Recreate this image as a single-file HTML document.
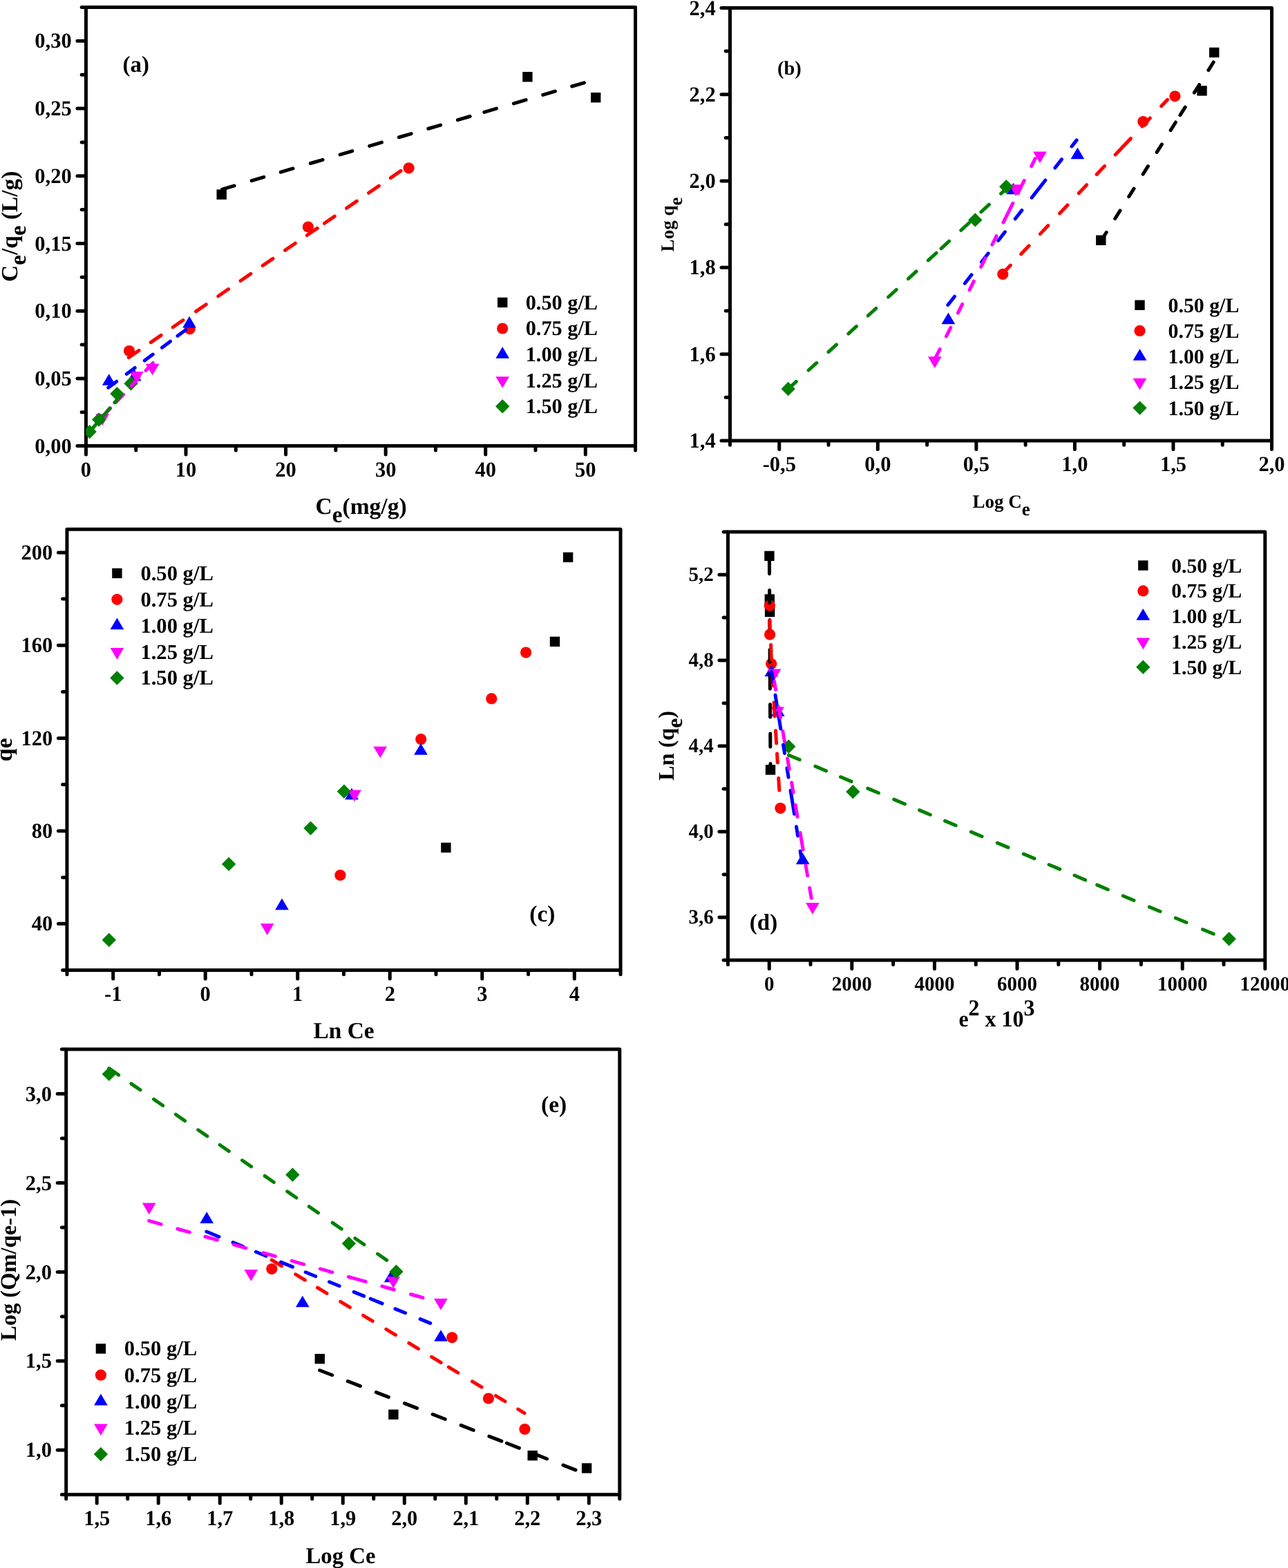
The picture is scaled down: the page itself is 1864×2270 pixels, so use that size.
<!DOCTYPE html>
<html lang="en"><head><meta charset="utf-8"><title>Isotherm plots</title>
<style>html,body{margin:0;padding:0;background:#fff}body{width:1864px;height:2270px;overflow:hidden}svg{display:block}text{font-family:"Liberation Serif","Times New Roman",serif;font-weight:bold;fill:#000;text-rendering:geometricPrecision}</style>
</head><body>
<svg xmlns="http://www.w3.org/2000/svg" width="1864" height="2270" viewBox="0 0 1864 2270">
<rect width="1864" height="2270" fill="#fff"/>
<g>
<clipPath id="clipa"><rect x="124.45" y="10.5" width="795.1" height="635.1"/></clipPath>
<path d="M123.45 645.6H111.95M123.45 547.89H111.95M123.45 450.18H111.95M123.45 352.48H111.95M123.45 254.77H111.95M123.45 157.06H111.95M123.45 59.35H111.95M123.45 596.75H118.15M123.45 499.04H118.15M123.45 401.33H118.15M123.45 303.62H118.15M123.45 205.92H118.15M123.45 108.21H118.15M123.45 10.5H118.15M124.45 646.6V658.1M269.01 646.6V658.1M413.58 646.6V658.1M558.14 646.6V658.1M702.7 646.6V658.1M847.27 646.6V658.1M196.73 646.6V651.9M341.3 646.6V651.9M485.86 646.6V651.9M630.42 646.6V651.9M774.99 646.6V651.9M919.55 646.6V651.9" stroke="#000" stroke-width="5" stroke-linecap="round" fill="none"/>
<text transform="translate(103.65 655.7) scale(0.983 1)" font-size="31" text-anchor="end">0,00</text>
<text transform="translate(103.65 557.99) scale(0.983 1)" font-size="31" text-anchor="end">0,05</text>
<text transform="translate(103.65 460.28) scale(0.983 1)" font-size="31" text-anchor="end">0,10</text>
<text transform="translate(103.65 362.58) scale(0.983 1)" font-size="31" text-anchor="end">0,15</text>
<text transform="translate(103.65 264.87) scale(0.983 1)" font-size="31" text-anchor="end">0,20</text>
<text transform="translate(103.65 167.16) scale(0.983 1)" font-size="31" text-anchor="end">0,25</text>
<text transform="translate(103.65 69.45) scale(0.983 1)" font-size="31" text-anchor="end">0,30</text>
<text transform="translate(124.45 689.7) scale(0.983 1)" font-size="31" text-anchor="middle">0</text>
<text transform="translate(269.01 689.7) scale(0.983 1)" font-size="31" text-anchor="middle">10</text>
<text transform="translate(413.58 689.7) scale(0.983 1)" font-size="31" text-anchor="middle">20</text>
<text transform="translate(558.14 689.7) scale(0.983 1)" font-size="31" text-anchor="middle">30</text>
<text transform="translate(702.7 689.7) scale(0.983 1)" font-size="31" text-anchor="middle">40</text>
<text transform="translate(847.27 689.7) scale(0.983 1)" font-size="31" text-anchor="middle">50</text>
<rect x="124.45" y="10.5" width="795.1" height="635.1" fill="none" stroke="#000" stroke-width="5" stroke-linejoin="round"/>
<g clip-path="url(#clipa)">
<rect x="313.5" y="274.4" width="14.4" height="14.4" fill="#000"/>
<rect x="756.2" y="104.1" width="14.4" height="14.4" fill="#000"/>
<rect x="855" y="134" width="14.4" height="14.4" fill="#000"/>
<circle cx="187" cy="508" r="8.1" fill="#ff0000"/>
<circle cx="274.6" cy="476.3" r="8.1" fill="#ff0000"/>
<circle cx="445.9" cy="328.5" r="8.1" fill="#ff0000"/>
<circle cx="591.6" cy="243.3" r="8.1" fill="#ff0000"/>
<polygon points="157.7,541.17 167.55,557.87 147.85,557.87" fill="#0000ff"/>
<polygon points="194.7,534.77 204.55,551.47 184.85,551.47" fill="#0000ff"/>
<polygon points="274,457.87 283.85,474.57 264.15,474.57" fill="#0000ff"/>
<polygon points="148.3,615.93 158.15,599.23 138.45,599.23" fill="#ff00ff"/>
<polygon points="197.8,554.73 207.65,538.03 187.95,538.03" fill="#ff00ff"/>
<polygon points="220.6,543.33 230.45,526.63 210.75,526.63" fill="#ff00ff"/>
<polygon points="129.7,614.9 139.9,625.1 129.7,635.3 119.5,625.1" fill="#008000"/>
<polygon points="143.2,597.3 153.4,607.5 143.2,617.7 133,607.5" fill="#008000"/>
<polygon points="169.4,559.9 179.6,570.1 169.4,580.3 159.2,570.1" fill="#008000"/>
<polygon points="189.5,545.1 199.7,555.3 189.5,565.5 179.3,555.3" fill="#008000"/>
<path d="M321.4 274.2L339.15 268.97 M364.1 261.62L381.85 256.39 M406.3 249.18L424.05 243.95 M449.3 236.51L467.05 231.28 M492.1 223.9L509.85 218.67 M534.7 211.35L552.45 206.12 M577.4 198.77L595.15 193.54 M619.8 186.27L637.55 181.05 M662.4 173.72L680.15 168.49 M700.8 162.41L718.55 157.18 M743.4 149.85L761.15 144.63 M785.7 137.39L803.45 132.16 M827.7 125.02L845.45 119.79" stroke="#000" stroke-width="5" stroke-linecap="round" fill="none"/>
<path d="M186.17 517.62L201.01 507.44 M218.27 495.6L233.11 485.42 M250.17 473.72L265.01 463.54 M283.47 450.88L298.31 440.69 M315.77 428.72L330.61 418.54 M348.07 406.56L362.91 396.38 M380.17 384.54L395.01 374.36 M412.47 362.38L427.31 352.2 M444.37 340.5L459.21 330.32 M469.47 323.28L484.31 313.1 M501.57 301.26L516.41 291.08 M533.57 279.31L548.41 269.13 M565.27 257.57L580.11 247.39" stroke="#ff0000" stroke-width="5" stroke-linecap="round" fill="none"/>
<path d="M156.7 561.21L168.72 552.24 M183.2 541.44L195.22 532.47 M209.2 522.04L221.22 513.07 M234.5 503.16L246.52 494.19 M257 486.37L269.02 477.4" stroke="#0000ff" stroke-width="5" stroke-linecap="round" fill="none"/>
<path d="M149.3 602.19L159.77 591.03 M168 582.25L178.47 571.09 M190.1 558.69L200.57 547.53 M210.9 536.51L221.37 525.36" stroke="#ff00ff" stroke-width="5" stroke-linecap="round" fill="none"/>
<path d="M131 623.58L140.76 612.19 M149.2 602.34L158.96 590.95 M165.8 582.96L175.56 571.57" stroke="#008000" stroke-width="5" stroke-linecap="round" fill="none"/>
</g>
<rect x="720" y="430.7" width="14.4" height="14.4" fill="#000"/>
<text transform="translate(760.7 447.8)" font-size="30.3" text-anchor="start">0.50 g/L</text>
<circle cx="727.2" cy="475.5" r="8.1" fill="#ff0000"/>
<text transform="translate(760.7 485.4)" font-size="30.3" text-anchor="start">0.75 g/L</text>
<polygon points="727.2,501.97 737.05,518.67 717.35,518.67" fill="#0000ff"/>
<text transform="translate(760.7 523)" font-size="30.3" text-anchor="start">1.00 g/L</text>
<polygon points="727.2,561.83 737.05,545.13 717.35,545.13" fill="#ff00ff"/>
<text transform="translate(760.7 560.6)" font-size="30.3" text-anchor="start">1.25 g/L</text>
<polygon points="727.2,578.1 737.4,588.3 727.2,598.5 717,588.3" fill="#008000"/>
<text transform="translate(760.7 598.2)" font-size="30.3" text-anchor="start">1.50 g/L</text>
<text transform="translate(177.4 103.5)" font-size="33" text-anchor="start">(a)</text>
<text transform="translate(522.5 744)" font-size="33.5" text-anchor="middle">C<tspan font-size="33.5" dy="11.5">e</tspan><tspan dy="-11.5">(mg/g)</tspan></text>
<text transform="translate(24.8 327.8) rotate(-90)" font-size="33.4" text-anchor="middle">C<tspan font-size="33.4" dy="12">e</tspan><tspan dy="-12">/q</tspan><tspan font-size="33.4" dy="12">e</tspan><tspan dy="-12"> (L/g)</tspan></text>
</g>
<g>
<clipPath id="clipb"><rect x="1056.5" y="11.4" width="784" height="626.6"/></clipPath>
<path d="M1055.5 638H1044M1055.5 512.68H1044M1055.5 387.36H1044M1055.5 262.04H1044M1055.5 136.72H1044M1055.5 11.4H1044M1055.5 575.34H1050.2M1055.5 450.02H1050.2M1055.5 324.7H1050.2M1055.5 199.38H1050.2M1055.5 74.06H1050.2M1127.77 639V650.5M1270.32 639V650.5M1412.86 639V650.5M1555.41 639V650.5M1697.95 639V650.5M1840.5 639V650.5M1056.5 639V644.3M1199.05 639V644.3M1341.59 639V644.3M1484.14 639V644.3M1626.68 639V644.3M1769.23 639V644.3" stroke="#000" stroke-width="5" stroke-linecap="round" fill="none"/>
<text transform="translate(1035.7 648.1) scale(0.983 1)" font-size="31" text-anchor="end">1,4</text>
<text transform="translate(1035.7 522.78) scale(0.983 1)" font-size="31" text-anchor="end">1,6</text>
<text transform="translate(1035.7 397.46) scale(0.983 1)" font-size="31" text-anchor="end">1,8</text>
<text transform="translate(1035.7 272.14) scale(0.983 1)" font-size="31" text-anchor="end">2,0</text>
<text transform="translate(1035.7 146.82) scale(0.983 1)" font-size="31" text-anchor="end">2,2</text>
<text transform="translate(1035.7 21.5) scale(0.983 1)" font-size="31" text-anchor="end">2,4</text>
<text transform="translate(1127.77 682.1) scale(0.983 1)" font-size="31" text-anchor="middle">-0,5</text>
<text transform="translate(1270.32 682.1) scale(0.983 1)" font-size="31" text-anchor="middle">0,0</text>
<text transform="translate(1412.86 682.1) scale(0.983 1)" font-size="31" text-anchor="middle">0,5</text>
<text transform="translate(1555.41 682.1) scale(0.983 1)" font-size="31" text-anchor="middle">1,0</text>
<text transform="translate(1697.95 682.1) scale(0.983 1)" font-size="31" text-anchor="middle">1,5</text>
<text transform="translate(1840.5 682.1) scale(0.983 1)" font-size="31" text-anchor="middle">2,0</text>
<rect x="1056.5" y="11.4" width="784" height="626.6" fill="none" stroke="#000" stroke-width="5" stroke-linejoin="round"/>
<g clip-path="url(#clipb)">
<rect x="1750" y="68.8" width="14.4" height="14.4" fill="#000"/>
<rect x="1732.3" y="124.2" width="14.4" height="14.4" fill="#000"/>
<rect x="1586.1" y="340.6" width="14.4" height="14.4" fill="#000"/>
<circle cx="1700.4" cy="139.3" r="8.1" fill="#ff0000"/>
<circle cx="1654.3" cy="176.1" r="8.1" fill="#ff0000"/>
<circle cx="1451.3" cy="396.9" r="8.1" fill="#ff0000"/>
<polygon points="1559.4,213.47 1569.25,230.17 1549.55,230.17" fill="#0000ff"/>
<polygon points="1466.5,264.67 1476.35,281.37 1456.65,281.37" fill="#0000ff"/>
<polygon points="1372.4,452.57 1382.25,469.27 1362.55,469.27" fill="#0000ff"/>
<polygon points="1505,236.13 1514.85,219.43 1495.15,219.43" fill="#ff00ff"/>
<polygon points="1470,283.93 1479.85,267.23 1460.15,267.23" fill="#ff00ff"/>
<polygon points="1352.8,533.03 1362.65,516.33 1342.95,516.33" fill="#ff00ff"/>
<polygon points="1456.2,260 1466.4,270.2 1456.2,280.4 1446,270.2" fill="#008000"/>
<polygon points="1411.3,308.2 1421.5,318.4 1411.3,328.6 1401.1,318.4" fill="#008000"/>
<polygon points="1140.7,552.8 1150.9,563 1140.7,573.2 1130.5,563" fill="#008000"/>
<path d="M1594.07 347.7L1601.26 336.27 M1613.7 316.5L1620.99 304.9 M1633.71 284.7L1641 273.1 M1654.15 252.2L1661.45 240.6 M1674.16 220.4L1681.45 208.8 M1694.17 188.6L1701.46 177 M1707.94 166.7L1715.24 155.1 M1728.39 134.2L1735.69 122.6 M1748.9 101.6L1756.19 90" stroke="#000" stroke-width="5" stroke-linecap="round" fill="none"/>
<path d="M1451.3 395.71L1462.38 384.03 M1477.72 367.84L1489.14 355.79 M1505.42 338.61L1516.84 326.56 M1533.52 308.96L1544.94 296.91 M1561.22 279.74L1572.64 267.69 M1587.12 252.41L1598.54 240.36 M1614.12 223.92L1636.34 200.48 M1652.92 182.98L1664.34 170.94 M1680.62 153.76L1689.56 144.32" stroke="#ff0000" stroke-width="5" stroke-linecap="round" fill="none"/>
<path d="M1371.84 441.58L1381.5 429.2 M1396.34 410.19L1406 397.81 M1420.54 379.18L1430.2 366.8 M1444.74 348.17L1454.4 335.8 M1469.24 316.78L1478.9 304.41 M1493.14 286.16L1512.83 260.93 M1526.84 242.98L1536.5 230.6 M1551.04 211.97L1558.12 202.91" stroke="#0000ff" stroke-width="5" stroke-linecap="round" fill="none"/>
<path d="M1351.94 521.9L1360.13 505.53 M1369.42 486.96L1375.73 474.35 M1386.38 453.06L1392.68 440.45 M1403.03 419.76L1409.34 407.15 M1419.69 386.46L1426 373.85 M1435.8 354.26L1442.1 341.65 M1451.9 322.06L1465.77 294.34 M1473.09 279.71L1482.21 261.47 M1492.52 240.86L1498.2 229.5" stroke="#ff00ff" stroke-width="5" stroke-linecap="round" fill="none"/>
<path d="M1140.7 563.01L1152.34 552.33 M1170.1 536.02L1181.74 525.34 M1198.9 509.59L1210.54 498.9 M1227.8 483.06L1239.44 472.38 M1256.2 456.99L1267.84 446.31 M1285.6 430.01L1297.24 419.32 M1314.4 403.57L1326.04 392.89 M1343.4 376.95L1355.04 366.27 M1362 359.88L1373.64 349.19 M1390.8 333.44L1402.44 322.76 M1419.8 306.82L1431.44 296.14 M1448.6 280.39L1454.49 274.98" stroke="#008000" stroke-width="5" stroke-linecap="round" fill="none"/>
</g>
<rect x="1642.3" y="434.5" width="14.4" height="14.4" fill="#000"/>
<text transform="translate(1690.5 451.6)" font-size="29.85" text-anchor="start">0.50 g/L</text>
<circle cx="1649.5" cy="478.93" r="8.1" fill="#ff0000"/>
<text transform="translate(1690.5 488.83)" font-size="29.85" text-anchor="start">0.75 g/L</text>
<polygon points="1649.5,505.03 1659.35,521.73 1639.65,521.73" fill="#0000ff"/>
<text transform="translate(1690.5 526.06)" font-size="29.85" text-anchor="start">1.00 g/L</text>
<polygon points="1649.5,564.52 1659.35,547.82 1639.65,547.82" fill="#ff00ff"/>
<text transform="translate(1690.5 563.29)" font-size="29.85" text-anchor="start">1.25 g/L</text>
<polygon points="1649.5,580.42 1659.7,590.62 1649.5,600.82 1639.3,590.62" fill="#008000"/>
<text transform="translate(1690.5 600.52)" font-size="29.85" text-anchor="start">1.50 g/L</text>
<text transform="translate(1125 107.8)" font-size="28.5" text-anchor="start">(b)</text>
<text transform="translate(1449 735)" font-size="27" text-anchor="middle">Log C<tspan font-size="27" dy="10.5">e</tspan></text>
<text transform="translate(974.6 325) rotate(-90)" font-size="27" text-anchor="middle">Log q<tspan font-size="27" dy="12">e</tspan></text>
</g>
<g>
<clipPath id="clipc"><rect x="96.95" y="766.35" width="801.1" height="638.2"/></clipPath>
<path d="M95.95 1337.37H84.45M95.95 1203.01H84.45M95.95 1068.66H84.45M95.95 934.3H84.45M95.95 799.94H84.45M95.95 1404.55H90.65M95.95 1270.19H90.65M95.95 1135.83H90.65M95.95 1001.48H90.65M95.95 867.12H90.65M163.71 1405.55V1417.05M297.22 1405.55V1417.05M430.74 1405.55V1417.05M564.26 1405.55V1417.05M697.77 1405.55V1417.05M831.29 1405.55V1417.05M96.95 1405.55V1410.85M230.47 1405.55V1410.85M363.98 1405.55V1410.85M497.5 1405.55V1410.85M631.02 1405.55V1410.85M764.53 1405.55V1410.85M898.05 1405.55V1410.85" stroke="#000" stroke-width="5" stroke-linecap="round" fill="none"/>
<text transform="translate(76.15 1347.47) scale(0.983 1)" font-size="31" text-anchor="end">40</text>
<text transform="translate(76.15 1213.11) scale(0.983 1)" font-size="31" text-anchor="end">80</text>
<text transform="translate(76.15 1078.76) scale(0.983 1)" font-size="31" text-anchor="end">120</text>
<text transform="translate(76.15 944.4) scale(0.983 1)" font-size="31" text-anchor="end">160</text>
<text transform="translate(76.15 810.04) scale(0.983 1)" font-size="31" text-anchor="end">200</text>
<text transform="translate(163.71 1448.65) scale(0.983 1)" font-size="31" text-anchor="middle">-1</text>
<text transform="translate(297.22 1448.65) scale(0.983 1)" font-size="31" text-anchor="middle">0</text>
<text transform="translate(430.74 1448.65) scale(0.983 1)" font-size="31" text-anchor="middle">1</text>
<text transform="translate(564.26 1448.65) scale(0.983 1)" font-size="31" text-anchor="middle">2</text>
<text transform="translate(697.77 1448.65) scale(0.983 1)" font-size="31" text-anchor="middle">3</text>
<text transform="translate(831.29 1448.65) scale(0.983 1)" font-size="31" text-anchor="middle">4</text>
<rect x="96.95" y="766.35" width="801.1" height="638.2" fill="none" stroke="#000" stroke-width="5" stroke-linejoin="round"/>
<g clip-path="url(#clipc)">
<rect x="638.2" y="1219.9" width="14.4" height="14.4" fill="#000"/>
<rect x="795.8" y="921.7" width="14.4" height="14.4" fill="#000"/>
<rect x="814.9" y="799.6" width="14.4" height="14.4" fill="#000"/>
<circle cx="492.4" cy="1267" r="8.1" fill="#ff0000"/>
<circle cx="609.2" cy="1070.2" r="8.1" fill="#ff0000"/>
<circle cx="711.3" cy="1011.4" r="8.1" fill="#ff0000"/>
<circle cx="761.1" cy="944.6" r="8.1" fill="#ff0000"/>
<polygon points="408,1300.47 417.85,1317.17 398.15,1317.17" fill="#0000ff"/>
<polygon points="509,1140.77 518.85,1157.47 499.15,1157.47" fill="#0000ff"/>
<polygon points="609,1076.17 618.85,1092.87 599.15,1092.87" fill="#0000ff"/>
<polygon points="386.7,1353.73 396.55,1337.03 376.85,1337.03" fill="#ff00ff"/>
<polygon points="513,1160.43 522.85,1143.73 503.15,1143.73" fill="#ff00ff"/>
<polygon points="550.2,1097.33 560.05,1080.63 540.35,1080.63" fill="#ff00ff"/>
<polygon points="157.8,1350.6 168,1360.8 157.8,1371 147.6,1360.8" fill="#008000"/>
<polygon points="331.1,1240.7 341.3,1250.9 331.1,1261.1 320.9,1250.9" fill="#008000"/>
<polygon points="449.5,1188.8 459.7,1199 449.5,1209.2 439.3,1199" fill="#008000"/>
<polygon points="497.9,1135.6 508.1,1145.8 497.9,1156 487.7,1145.8" fill="#008000"/>
</g>
<rect x="162.2" y="822.7" width="14.4" height="14.4" fill="#000"/>
<text transform="translate(203.4 839.8)" font-size="30.6" text-anchor="start">0.50 g/L</text>
<circle cx="169.4" cy="867.8" r="8.1" fill="#ff0000"/>
<text transform="translate(203.4 877.7)" font-size="30.6" text-anchor="start">0.75 g/L</text>
<polygon points="169.4,894.57 179.25,911.27 159.55,911.27" fill="#0000ff"/>
<text transform="translate(203.4 915.6)" font-size="30.6" text-anchor="start">1.00 g/L</text>
<polygon points="169.4,954.73 179.25,938.03 159.55,938.03" fill="#ff00ff"/>
<text transform="translate(203.4 953.5)" font-size="30.6" text-anchor="start">1.25 g/L</text>
<polygon points="169.4,971.3 179.6,981.5 169.4,991.7 159.2,981.5" fill="#008000"/>
<text transform="translate(203.4 991.4)" font-size="30.6" text-anchor="start">1.50 g/L</text>
<text transform="translate(766.3 1334.3)" font-size="33.5" text-anchor="start">(c)</text>
<text transform="translate(497.5 1502.5)" font-size="33.4" text-anchor="middle">Ln Ce</text>
<text transform="translate(16.7 1085.5) rotate(-90)" font-size="34" text-anchor="middle">qe</text>
</g>
<g>
<clipPath id="clipd"><rect x="1053.45" y="770.05" width="777.35" height="620.05"/></clipPath>
<path d="M1052.45 1328.09H1040.95M1052.45 1204.08H1040.95M1052.45 1080.07H1040.95M1052.45 956.06H1040.95M1052.45 832.05H1040.95M1052.45 1390.1H1047.15M1052.45 1266.09H1047.15M1052.45 1142.08H1047.15M1052.45 1018.07H1047.15M1052.45 894.06H1047.15M1052.45 770.05H1047.15M1113.25 1391.1V1402.6M1232.84 1391.1V1402.6M1352.43 1391.1V1402.6M1472.02 1391.1V1402.6M1591.62 1391.1V1402.6M1711.21 1391.1V1402.6M1830.8 1391.1V1402.6M1053.45 1391.1V1396.4M1173.04 1391.1V1396.4M1292.63 1391.1V1396.4M1412.23 1391.1V1396.4M1531.82 1391.1V1396.4M1651.41 1391.1V1396.4M1771 1391.1V1396.4" stroke="#000" stroke-width="5" stroke-linecap="round" fill="none"/>
<text transform="translate(1032.65 1337.09) scale(0.983 1)" font-size="29.5" text-anchor="end">3,6</text>
<text transform="translate(1032.65 1213.08) scale(0.983 1)" font-size="29.5" text-anchor="end">4,0</text>
<text transform="translate(1032.65 1089.07) scale(0.983 1)" font-size="29.5" text-anchor="end">4,4</text>
<text transform="translate(1032.65 965.06) scale(0.983 1)" font-size="29.5" text-anchor="end">4,8</text>
<text transform="translate(1032.65 841.05) scale(0.983 1)" font-size="29.5" text-anchor="end">5,2</text>
<text transform="translate(1113.25 1434.2) scale(0.983 1)" font-size="29.5" text-anchor="middle">0</text>
<text transform="translate(1232.84 1434.2) scale(0.983 1)" font-size="29.5" text-anchor="middle">2000</text>
<text transform="translate(1352.43 1434.2) scale(0.983 1)" font-size="29.5" text-anchor="middle">4000</text>
<text transform="translate(1472.02 1434.2) scale(0.983 1)" font-size="29.5" text-anchor="middle">6000</text>
<text transform="translate(1591.62 1434.2) scale(0.983 1)" font-size="29.5" text-anchor="middle">8000</text>
<text transform="translate(1711.21 1434.2) scale(0.983 1)" font-size="29.5" text-anchor="middle">10000</text>
<text transform="translate(1830.8 1434.2) scale(0.983 1)" font-size="29.5" text-anchor="middle">12000</text>
<rect x="1053.45" y="770.05" width="777.35" height="620.05" fill="none" stroke="#000" stroke-width="5" stroke-linejoin="round"/>
<g clip-path="url(#clipd)">
<rect x="1106.2" y="797.7" width="14.4" height="14.4" fill="#000"/>
<rect x="1106.6" y="860.3" width="14.4" height="14.4" fill="#000"/>
<rect x="1106.9" y="878.7" width="14.4" height="14.4" fill="#000"/>
<rect x="1107.8" y="1107.3" width="14.4" height="14.4" fill="#000"/>
<circle cx="1113.8" cy="876.8" r="8.1" fill="#ff0000"/>
<circle cx="1114.1" cy="918.6" r="8.1" fill="#ff0000"/>
<circle cx="1116.2" cy="961.1" r="8.1" fill="#ff0000"/>
<circle cx="1129.4" cy="1170.1" r="8.1" fill="#ff0000"/>
<polygon points="1116.4,962.57 1126.25,979.27 1106.55,979.27" fill="#0000ff"/>
<polygon points="1125.8,1020.27 1135.65,1036.97 1115.95,1036.97" fill="#0000ff"/>
<polygon points="1161.7,1234.57 1171.55,1251.27 1151.85,1251.27" fill="#0000ff"/>
<polygon points="1120.6,985.23 1130.45,968.53 1110.75,968.53" fill="#ff00ff"/>
<polygon points="1125.1,1040.23 1134.95,1023.53 1115.25,1023.53" fill="#ff00ff"/>
<polygon points="1175.9,1323.73 1185.75,1307.03 1166.05,1307.03" fill="#ff00ff"/>
<polygon points="1141.3,1070.5 1151.5,1080.7 1141.3,1090.9 1131.1,1080.7" fill="#008000"/>
<polygon points="1234.4,1136 1244.6,1146.2 1234.4,1156.4 1224.2,1146.2" fill="#008000"/>
<polygon points="1778.7,1349 1788.9,1359.2 1778.7,1369.4 1768.5,1359.2" fill="#008000"/>
<path d="M1113.4 804.9L1113.53 830.7 M1113.66 854.5L1113.75 872.8 M1113.88 897.5L1113.98 916.3 M1114.1 940.6L1114.19 958.5 M1114.29 976.4L1114.39 997.3 M1114.51 1019.8L1114.61 1038.2 M1114.73 1062L1114.83 1081.2 M1114.95 1105.4L1115 1114.5" stroke="#000" stroke-width="5" stroke-linecap="round" fill="none"/>
<path d="M1114 898.3L1114.1 917 M1115.6 933.4L1116.3 955 M1117.5 977L1118.5 992.6 M1120 1016.9L1121.2 1037 M1122.5 1057.7L1123.6 1076.1 M1124.5 1090.9L1125.3 1104 M1126.7 1126.4L1127.8 1144.2" stroke="#ff0000" stroke-width="5" stroke-linecap="round" fill="none"/>
<path d="M1116.56 972.2L1119.01 987.5 M1122 1006.2L1124.85 1024 M1126.03 1031.4L1129.84 1055.2 M1133.52 1078.2L1135.49 1090.5 M1138.93 1112L1141.06 1125.3 M1144.13 1144.5L1149.55 1178.4 M1152.5 1196.8L1154.62 1210.1 M1158.18 1232.3L1160.32 1245.7" stroke="#0000ff" stroke-width="5" stroke-linecap="round" fill="none"/>
<path d="M1120.55 986.6L1122.6 998.6 M1126.82 1023.3L1129.51 1039 M1132.86 1058.6L1135.48 1073.9 M1139.6 1098L1142.25 1113.5 M1145.57 1132.9L1148.01 1147.2 M1151.12 1165.4L1154.06 1182.6 M1158 1205.6L1162.17 1230 M1166.09 1252.9L1168.63 1267.8 M1171.66 1285.5L1174.17 1300.2" stroke="#ff00ff" stroke-width="5" stroke-linecap="round" fill="none"/>
<path d="M1141.5 1093.2L1157.2 1099.81 M1179.9 1109.37L1195.6 1115.98 M1216.5 1124.78L1232.2 1131.39 M1255.8 1141.33L1271.5 1147.94 M1293.8 1157.33L1309.5 1163.94 M1330.6 1172.83L1346.3 1179.44 M1367.5 1188.37L1383.2 1194.98 M1405.4 1204.33L1421.1 1210.94 M1443.3 1220.29L1459 1226.9 M1481.3 1236.29L1497 1242.9 M1518.1 1251.79L1533.8 1258.4 M1555 1267.32L1570.7 1273.94 M1587.7 1281.09L1603.4 1287.71 M1625.3 1296.93L1641 1303.54 M1663.3 1312.93L1679 1319.54 M1701.3 1328.93L1717 1335.54 M1740.5 1345.44L1756.2 1352.05" stroke="#008000" stroke-width="5" stroke-linecap="round" fill="none"/>
</g>
<rect x="1647.1" y="811.4" width="14.4" height="14.4" fill="#000"/>
<text transform="translate(1695.3 828.5)" font-size="29.55" text-anchor="start">0.50 g/L</text>
<circle cx="1654.3" cy="855.4" r="8.1" fill="#ff0000"/>
<text transform="translate(1695.3 865.3)" font-size="29.55" text-anchor="start">0.75 g/L</text>
<polygon points="1654.3,881.07 1664.15,897.77 1644.45,897.77" fill="#0000ff"/>
<text transform="translate(1695.3 902.1)" font-size="29.55" text-anchor="start">1.00 g/L</text>
<polygon points="1654.3,940.13 1664.15,923.43 1644.45,923.43" fill="#ff00ff"/>
<text transform="translate(1695.3 938.9)" font-size="29.55" text-anchor="start">1.25 g/L</text>
<polygon points="1654.3,955.6 1664.5,965.8 1654.3,976 1644.1,965.8" fill="#008000"/>
<text transform="translate(1695.3 975.7)" font-size="29.55" text-anchor="start">1.50 g/L</text>
<text transform="translate(1084.8 1346)" font-size="33" text-anchor="start">(d)</text>
<text transform="translate(1442.5 1485.7) scale(0.97 1)" font-size="33" text-anchor="middle">e<tspan font-size="33" dy="-15.5">2</tspan><tspan dy="15.5"> x 10</tspan><tspan font-size="33" dy="-15.5">3</tspan></text>
<text transform="translate(975.2 1079.5) rotate(-90)" font-size="32.2" text-anchor="middle">Ln (q<tspan font-size="32.2" dy="11.5">e</tspan><tspan dy="-11.5">)</tspan></text>
</g>
<g>
<clipPath id="clipe"><rect x="95.7" y="1519.1" width="801.1" height="644.65"/></clipPath>
<path d="M94.7 2099.28H83.2M94.7 1970.36H83.2M94.7 1841.42H83.2M94.7 1712.49H83.2M94.7 1583.57H83.2M94.7 2163.75H89.4M94.7 2034.82H89.4M94.7 1905.89H89.4M94.7 1776.96H89.4M94.7 1648.03H89.4M94.7 1519.1H89.4M140.21 2164.75V2176.25M229.22 2164.75V2176.25M318.23 2164.75V2176.25M407.24 2164.75V2176.25M496.25 2164.75V2176.25M585.26 2164.75V2176.25M674.27 2164.75V2176.25M763.28 2164.75V2176.25M852.29 2164.75V2176.25M95.7 2164.75V2170.05M184.71 2164.75V2170.05M273.72 2164.75V2170.05M362.73 2164.75V2170.05M451.74 2164.75V2170.05M540.76 2164.75V2170.05M629.77 2164.75V2170.05M718.78 2164.75V2170.05M807.79 2164.75V2170.05M896.8 2164.75V2170.05" stroke="#000" stroke-width="5" stroke-linecap="round" fill="none"/>
<text transform="translate(74.9 2109.38) scale(0.983 1)" font-size="31" text-anchor="end">1,0</text>
<text transform="translate(74.9 1980.45) scale(0.983 1)" font-size="31" text-anchor="end">1,5</text>
<text transform="translate(74.9 1851.52) scale(0.983 1)" font-size="31" text-anchor="end">2,0</text>
<text transform="translate(74.9 1722.59) scale(0.983 1)" font-size="31" text-anchor="end">2,5</text>
<text transform="translate(74.9 1593.66) scale(0.983 1)" font-size="31" text-anchor="end">3,0</text>
<text transform="translate(140.21 2207.85) scale(0.983 1)" font-size="31" text-anchor="middle">1,5</text>
<text transform="translate(229.22 2207.85) scale(0.983 1)" font-size="31" text-anchor="middle">1,6</text>
<text transform="translate(318.23 2207.85) scale(0.983 1)" font-size="31" text-anchor="middle">1,7</text>
<text transform="translate(407.24 2207.85) scale(0.983 1)" font-size="31" text-anchor="middle">1,8</text>
<text transform="translate(496.25 2207.85) scale(0.983 1)" font-size="31" text-anchor="middle">1,9</text>
<text transform="translate(585.26 2207.85) scale(0.983 1)" font-size="31" text-anchor="middle">2,0</text>
<text transform="translate(674.27 2207.85) scale(0.983 1)" font-size="31" text-anchor="middle">2,1</text>
<text transform="translate(763.28 2207.85) scale(0.983 1)" font-size="31" text-anchor="middle">2,2</text>
<text transform="translate(852.29 2207.85) scale(0.983 1)" font-size="31" text-anchor="middle">2,3</text>
<rect x="95.7" y="1519.1" width="801.1" height="644.65" fill="none" stroke="#000" stroke-width="5" stroke-linejoin="round"/>
<g clip-path="url(#clipe)">
<rect x="455.6" y="1960" width="14.4" height="14.4" fill="#000"/>
<rect x="562.2" y="2040.6" width="14.4" height="14.4" fill="#000"/>
<rect x="763.5" y="2100" width="14.4" height="14.4" fill="#000"/>
<rect x="841.9" y="2118.3" width="14.4" height="14.4" fill="#000"/>
<circle cx="393.3" cy="1837.1" r="8.1" fill="#ff0000"/>
<circle cx="654.2" cy="1936.3" r="8.1" fill="#ff0000"/>
<circle cx="706.9" cy="2024.5" r="8.1" fill="#ff0000"/>
<circle cx="759.4" cy="2069" r="8.1" fill="#ff0000"/>
<polygon points="299.2,1754.27 309.05,1770.97 289.35,1770.97" fill="#0000ff"/>
<polygon points="437.8,1875.67 447.65,1892.37 427.95,1892.37" fill="#0000ff"/>
<polygon points="565.7,1839.47 575.55,1856.17 555.85,1856.17" fill="#0000ff"/>
<polygon points="638,1925.17 647.85,1941.87 628.15,1941.87" fill="#0000ff"/>
<polygon points="215.7,1758.13 225.55,1741.43 205.85,1741.43" fill="#ff00ff"/>
<polygon points="363.3,1854.73 373.15,1838.03 353.45,1838.03" fill="#ff00ff"/>
<polygon points="569.2,1864.93 579.05,1848.23 559.35,1848.23" fill="#ff00ff"/>
<polygon points="637.9,1896.73 647.75,1880.03 628.05,1880.03" fill="#ff00ff"/>
<polygon points="157.8,1544.7 168,1554.9 157.8,1565.1 147.6,1554.9" fill="#008000"/>
<polygon points="423.4,1690.6 433.6,1700.8 423.4,1711 413.2,1700.8" fill="#008000"/>
<polygon points="504.9,1790.1 515.1,1800.3 504.9,1810.5 494.7,1800.3" fill="#008000"/>
<polygon points="573.5,1830.8 583.7,1841 573.5,1851.2 563.3,1841" fill="#008000"/>
<path d="M462.63 1983.73L480.71 1990.77 M503.33 1999.59L521.41 2006.64 M544.33 2015.57L562.41 2022.62 M585.43 2031.6L603.51 2038.64 M626.13 2047.46L644.21 2054.51 M667.13 2063.45L685.21 2070.49 M707.83 2079.31L725.91 2086.36 M733.33 2089.25L751.41 2096.3 M773.5 2104.91L791.58 2111.96 M814.93 2121.06L833.01 2128.11" stroke="#000" stroke-width="5" stroke-linecap="round" fill="none"/>
<path d="M393.3 1824.09L407.58 1832.75 M427.74 1844.96L441.34 1853.2 M459.44 1864.18L473.04 1872.42 M492.74 1884.36L506.34 1892.6 M525.64 1904.3L539.24 1912.54 M558.84 1924.42L572.44 1932.66 M591.84 1944.42L605.44 1952.66 M624.64 1964.3L638.24 1972.54 M649.24 1979.21L662.84 1987.45 M683.44 1999.94L697.04 2008.18 M717.44 2020.54L731.04 2028.79 M749.74 2040.12L759.06 2045.77" stroke="#ff0000" stroke-width="5" stroke-linecap="round" fill="none"/>
<path d="M298.81 1783.04L316.95 1790.46 M337.01 1798.67L351.63 1804.66 M370.31 1812.3L384.93 1818.29 M406.41 1827.08L423.53 1834.09 M442.21 1841.73L456.83 1847.72 M476.51 1855.77L491.13 1861.76 M512.11 1870.34L526.73 1876.33 M536.21 1880.21L553.15 1887.14 M571.91 1894.82L586.53 1900.8 M608.11 1909.63L622.73 1915.62" stroke="#0000ff" stroke-width="5" stroke-linecap="round" fill="none"/>
<path d="M215.61 1767.4L233.13 1772.32 M256.81 1778.97L274.33 1783.89 M296.91 1790.23L314.43 1795.14 M338.41 1801.87L355.93 1806.79 M380.81 1813.78L398.33 1818.7 M422.21 1825.4L439.73 1830.32 M463.31 1836.93L480.83 1841.85 M504.41 1848.47L529.15 1855.42 M552.81 1862.06L570.33 1866.98 M594.51 1873.76L612.03 1878.68" stroke="#ff00ff" stroke-width="5" stroke-linecap="round" fill="none"/>
<path d="M157.8 1546.68L171.7 1556.29 M189.86 1568.84L203.02 1577.93 M222.56 1591.43L235.72 1600.52 M254.46 1613.47L267.62 1622.57 M286.76 1635.79L299.92 1644.88 M318.16 1657.48L331.32 1666.58 M350.46 1679.8L363.62 1688.9 M383.16 1702.39L396.32 1711.49 M415.76 1724.92L428.92 1734.01 M447.36 1746.75L460.52 1755.85 M481.16 1770.11L494.32 1779.2 M513.86 1792.7L527.02 1801.79 M546.56 1815.29L559.72 1824.39" stroke="#008000" stroke-width="5" stroke-linecap="round" fill="none"/>
</g>
<rect x="138.7" y="1945.3" width="14.4" height="14.4" fill="#000"/>
<text transform="translate(179.7 1962.4)" font-size="30.6" text-anchor="start">0.50 g/L</text>
<circle cx="145.9" cy="1990.7" r="8.1" fill="#ff0000"/>
<text transform="translate(179.7 2000.6)" font-size="30.6" text-anchor="start">0.75 g/L</text>
<polygon points="145.9,2017.77 155.75,2034.47 136.05,2034.47" fill="#0000ff"/>
<text transform="translate(179.7 2038.8)" font-size="30.6" text-anchor="start">1.00 g/L</text>
<polygon points="145.9,2078.23 155.75,2061.53 136.05,2061.53" fill="#ff00ff"/>
<text transform="translate(179.7 2077)" font-size="30.6" text-anchor="start">1.25 g/L</text>
<polygon points="145.9,2095.1 156.1,2105.3 145.9,2115.5 135.7,2105.3" fill="#008000"/>
<text transform="translate(179.7 2115.2)" font-size="30.6" text-anchor="start">1.50 g/L</text>
<text transform="translate(783 1610)" font-size="33.5" text-anchor="start">(e)</text>
<text transform="translate(493 2263)" font-size="32.8" text-anchor="middle">Log Ce</text>
<text transform="translate(23.1 1838.5) rotate(-90)" font-size="32.5" text-anchor="middle">Log (Qm/qe-1)</text>
</g>
</svg></body></html>
